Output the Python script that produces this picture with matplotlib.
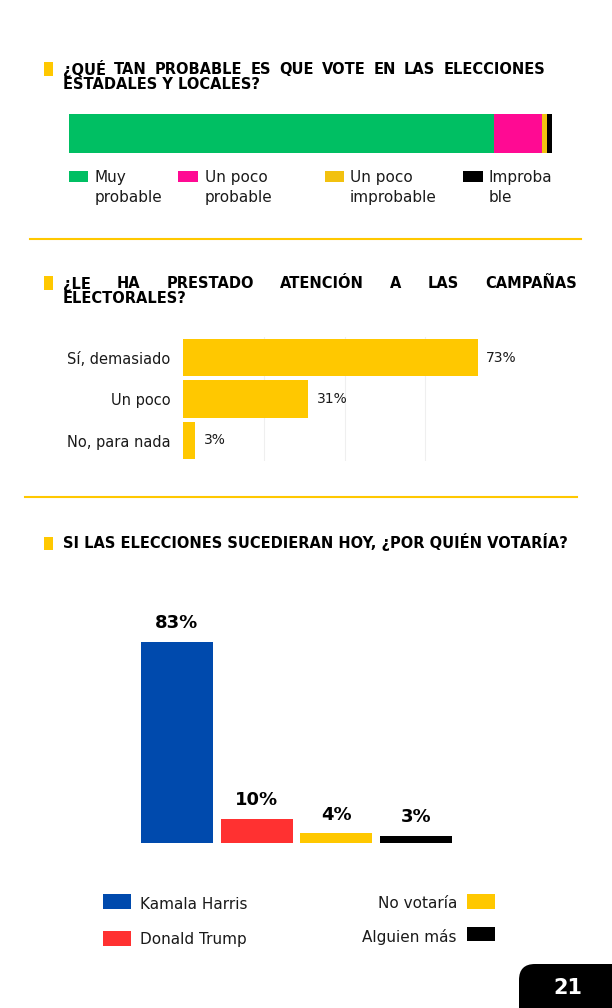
import matplotlib
matplotlib.use('Agg')
import matplotlib.pyplot as plt
from matplotlib.patches import Rectangle, FancyBboxPatch

W, H = 612, 1008

# data
likely_labels = ['Muy\nprobable', 'Un poco\nprobable', 'Un poco\nimprobable', 'Improba\nble']
likely_values = [88, 10, 1, 1]
likely_colors = ['#00BF63', '#FF0A93', '#F2C10F', '#000000']

attention_labels = ['Sí, demasiado', 'Un poco', 'No, para nada']
attention_values = [73, 31, 3]

vote_labels = ['Kamala Harris', 'Donald Trump', 'No votaría', 'Alguien más']
vote_values = [83, 10, 4, 3]
vote_colors = ['#004AAD', '#FF3131', '#FFC800', '#000000']

title1 = ['¿QUÉ TAN PROBABLE ES QUE VOTE EN LAS ELECCIONES', 'ESTADALES Y LOCALES?']
title2 = ['¿LE HA PRESTADO ATENCIÓN A LAS CAMPAÑAS', 'ELECTORALES?']
title3 = 'SI LAS ELECCIONES SUCEDIERAN HOY, ¿POR QUIÉN VOTARÍA?'
page_number = '21'

YELLOW = '#FFC800'
TEXT = '#1A1A1A'

plt.rcParams['font.family'] = ['DejaVu Sans']

fig = plt.figure(figsize=(W / 100, H / 100), dpi=100)
fig.patch.set_facecolor('white')

# full page axes in pixel coords (y down) for decorations
page = fig.add_axes([0, 0, 1, 1])
page.set_xlim(0, W)
page.set_ylim(H, 0)
page.axis('off')

renderer = fig.canvas.get_renderer()


def add_axes(x0, y0, x1, y1):
    return fig.add_axes([x0 / W, 1 - y1 / H, (x1 - x0) / W, (y1 - y0) / H])


def width_of(t):
    return t.get_window_extent(renderer).width


# title font size fitted to the third title width
probe = page.text(0, 0, title3, fontsize=10, fontweight='bold')
title_fs = 10 * 502 / width_of(probe)
probe.remove()


def title_line(line, x0, x1, y, justify=True):
    if not justify:
        page.text(x0, y, line, fontsize=title_fs, fontweight='bold', color='black', va='baseline')
        return
    words = line.split(' ')
    texts = [page.text(x0, y, w, fontsize=title_fs, fontweight='bold', color='black', va='baseline')
             for w in words]
    widths = [width_of(t) for t in texts]
    gap = (x1 - x0 - sum(widths)) / (len(words) - 1)
    x = x0
    for t, w in zip(texts, widths):
        t.set_x(x)
        x += w + gap


def marker(y0, h=14):
    page.add_patch(Rectangle((44, y0), 9, h, color=YELLOW, lw=0))


# ---- section 1 ----
marker(62)
title_line(title1[0], 63, 545, 74.5)
title_line(title1[1], 63, 545, 89, justify=False)

ax1 = add_axes(68.6, 114, 552, 153)
left = 0
for v, c in zip(likely_values, likely_colors):
    ax1.barh(0, v, left=left, color=c, height=1)
    left += v
ax1.set_xlim(0, sum(likely_values))
ax1.set_ylim(-0.5, 0.5)
ax1.axis('off')

sq_x = [68.6, 178, 324.6, 463]
tx_x = [94.3, 205, 349.6, 489]
for lab, c, sx, tx in zip(likely_labels, likely_colors, sq_x, tx_x):
    page.add_patch(Rectangle((sx, 171), 19.5, 11, color=c, lw=0))
    l1, l2 = lab.split('\n')
    page.text(tx, 182, l1, fontsize=11, color=TEXT, va='baseline')
    page.text(tx, 202, l2, fontsize=11, color=TEXT, va='baseline')

page.plot([30, 581], [239, 239], color=YELLOW, lw=1.5)

# ---- section 2 ----
marker(276)
title_line(title2[0], 63, 577, 288.5)
title_line(title2[1], 63, 577, 303, justify=False)

pitch = 41.5
ax2 = add_axes(183, 357.5 - pitch / 2, 183 + 80 * 4.04, 357.5 + pitch * 2.5)
ax2.barh(range(len(attention_values)), attention_values, height=0.9, color=YELLOW, zorder=2)
ax2.set_xlim(0, 80)
ax2.set_ylim(2.5, -0.5)
ax2.set_yticks(range(len(attention_labels)))
ax2.set_yticklabels(attention_labels, fontsize=10.5, color=TEXT)
ax2.tick_params(axis='y', length=0, pad=9)
ax2.set_xticks([20, 40, 60])
ax2.tick_params(axis='x', length=0, labelbottom=False)
ax2.grid(axis='x', color='#EFEFEF', lw=0.8, zorder=0)
ax2.set_axisbelow(True)
for s in ax2.spines.values():
    s.set_visible(False)
for i, v in enumerate(attention_values):
    ax2.annotate(f'{v}%', (v, i), xytext=(6, 0), textcoords='offset points',
                 va='center', ha='left', fontsize=10, color=TEXT)

page.plot([25, 577], [497, 497], color=YELLOW, lw=1.5)

# ---- section 3 ----
marker(537, 13)
title_line(title3, 63, 565, 548, justify=False)

ax3 = add_axes(137, 843 - 242, 456, 843)
ax3.bar(range(len(vote_values)), vote_values, width=0.9, color=vote_colors)
ax3.set_xlim(-0.5, 3.5)
ax3.set_ylim(0, 100)
ax3.axis('off')
for i, v in enumerate(vote_values):
    ax3.annotate(f'{v}%', (i, v), xytext=(0, 7), textcoords='offset points',
                 ha='center', va='bottom', fontsize=13, fontweight='bold', color='black')

# legend
page.add_patch(Rectangle((103, 894), 28, 15, color=vote_colors[0], lw=0))
page.text(140, 909, vote_labels[0], fontsize=11, color=TEXT, va='baseline')
page.add_patch(Rectangle((103, 931), 28, 15, color=vote_colors[1], lw=0))
page.text(140, 944, vote_labels[1], fontsize=11, color=TEXT, va='baseline')
page.add_patch(Rectangle((467, 894), 28, 15, color=vote_colors[2], lw=0))
page.text(457, 908, vote_labels[2], fontsize=11, color=TEXT, va='baseline', ha='right')
page.add_patch(Rectangle((467, 927), 28, 14, color=vote_colors[3], lw=0))
page.text(457, 942, vote_labels[3], fontsize=11, color=TEXT, va='baseline', ha='right')

# page number tab
page.add_patch(FancyBboxPatch((535, 980), 120, 80, boxstyle='round,pad=16',
                              color='black', lw=0, clip_on=False))
page.text(568, 988, page_number, fontsize=15, fontweight='bold', color='white',
          ha='center', va='center')

fig.savefig('out.png', dpi=100, facecolor='white')
